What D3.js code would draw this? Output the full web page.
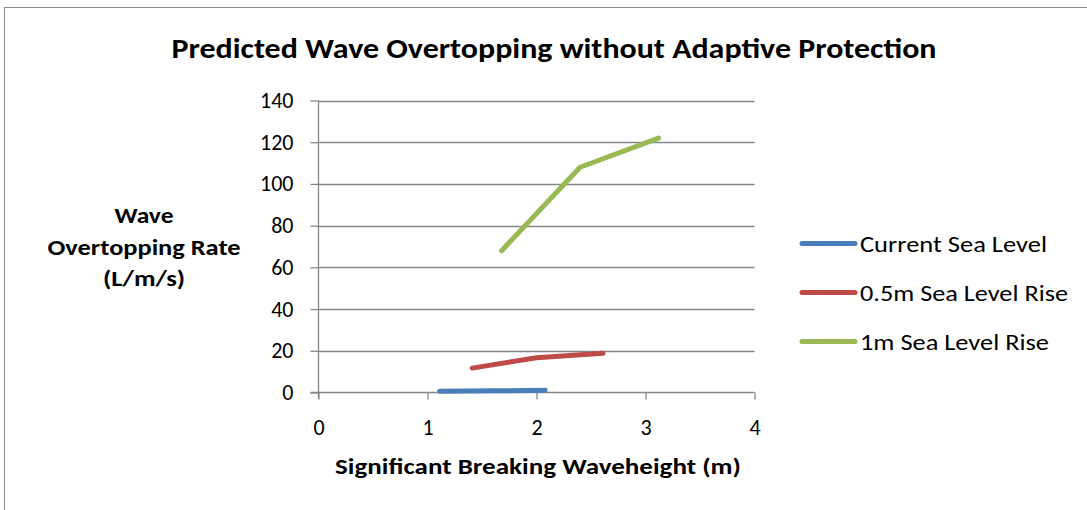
<!DOCTYPE html>
<html>
<head>
<meta charset="utf-8">
<script src="https://cdn.jsdelivr.net/npm/d3@7"></script>
<style>
  html, body { margin: 0; padding: 0; background: #fff; }
  svg { display: block; }
  text { font-family: Carlito, Calibri, Lato, "Open Sans", sans-serif; fill: #000; }
</style>
</head>
<body>
<svg id="chart" width="1087" height="510"></svg>
<script>
// Series: significant breaking waveheight (m) vs. overtopping rate (L/m/s)
const seriesNames = ["Current Sea Level", "0.5m Sea Level Rise", "1m Sea Level Rise"];
const seriesColors = ["#4a7ebb", "#be4b48", "#98b954"];
const currentX = [1.11, 1.6, 2.08];
const currentY = [0.6, 0.8, 1.1];
const halfMetreX = [1.41, 2.0, 2.61];
const halfMetreY = [11.7, 16.7, 18.8];
const oneMetreX = [1.68, 2.4, 3.12];
const oneMetreY = [68, 108, 122];
const xTicks = [0, 1, 2, 3, 4];
const yTicks = [0, 20, 40, 60, 80, 100, 120, 140];

const series = [
  { name: seriesNames[0], color: seriesColors[0], width: 187, pts: currentX.map((x, i) => [x, currentY[i]]) },
  { name: seriesNames[1], color: seriesColors[1], width: 208, pts: halfMetreX.map((x, i) => [x, halfMetreY[i]]) },
  { name: seriesNames[2], color: seriesColors[2], width: 189, pts: oneMetreX.map((x, i) => [x, oneMetreY[i]]) }
];

const svg = d3.select("#chart");

// Chart frame
svg.append("rect")
  .attr("x", 4.5).attr("y", 7.5)
  .attr("width", 1100).attr("height", 520)
  .attr("fill", "#fff").attr("stroke", "#8c8c8c").attr("stroke-width", 1);

const x = d3.scaleLinear().domain([0, 4]).range([318.5, 754.5]);
const y = d3.scaleLinear().domain([0, 140]).range([392.5, 100.5]);

const gridColor = "#878787";
const tickFont = "22px";

// Horizontal gridlines
svg.append("g")
  .selectAll("line")
  .data(yTicks.filter(d => d > 0))
  .join("line")
  .attr("x1", x(0)).attr("x2", x(4))
  .attr("y1", d => Math.round(y(d)) + 0.5).attr("y2", d => Math.round(y(d)) + 0.5)
  .attr("stroke", gridColor).attr("stroke-width", 1.3);

// Y axis
const yAxis = svg.append("g")
  .attr("transform", `translate(${x(0)},0)`)
  .call(d3.axisLeft(y).tickValues(yTicks).tickSize(8).tickPadding(17).tickFormat(d3.format("d")));
yAxis.select(".domain").attr("stroke", gridColor).attr("stroke-width", 1.3).attr("d", `M0,${y(140)}V${y(0) + 6}`);
yAxis.selectAll(".tick line").attr("stroke", gridColor).attr("stroke-width", 1.3);
yAxis.selectAll(".tick text").style("font-size", tickFont).attr("fill", "#000");

// X axis
const xAxis = svg.append("g")
  .attr("transform", `translate(0,${y(0)})`)
  .call(d3.axisBottom(x).tickValues(xTicks).tickSize(7).tickPadding(20).tickFormat(d3.format("d")));
xAxis.select(".domain").attr("stroke", gridColor).attr("stroke-width", 1.3).attr("d", `M${x(0) - 8},0H${x(4)}`);
xAxis.selectAll(".tick line").attr("stroke", gridColor).attr("stroke-width", 1.3);
xAxis.selectAll(".tick text").style("font-size", tickFont).attr("fill", "#000");

// Series lines
const line = d3.line().x(d => x(d[0])).y(d => y(d[1]));
svg.append("g")
  .selectAll("path")
  .data(series)
  .join("path")
  .attr("d", d => line(d.pts))
  .attr("fill", "none")
  .attr("stroke", d => d.color)
  .attr("stroke-width", 5)
  .attr("stroke-linecap", "round")
  .attr("stroke-linejoin", "round");

// Title
svg.append("text")
  .attr("x", 554).attr("y", 58)
  .attr("text-anchor", "middle")
  .attr("textLength", 765).attr("lengthAdjust", "spacingAndGlyphs")
  .style("font-size", "29px").style("font-weight", "bold")
  .text("Predicted Wave Overtopping without Adaptive Protection");

// Y axis title, three centred lines
const yTitleLines = [
  { t: "Wave", y: 223, w: 59 },
  { t: "Overtopping Rate", y: 255, w: 193 },
  { t: "(L/m/s)", y: 286, w: 82 }
];
svg.append("g")
  .selectAll("text")
  .data(yTitleLines)
  .join("text")
  .attr("x", 144).attr("y", d => d.y)
  .attr("text-anchor", "middle")
  .attr("textLength", d => d.w).attr("lengthAdjust", "spacingAndGlyphs")
  .style("font-size", "23px").style("font-weight", "bold")
  .text(d => d.t);

// X axis title
svg.append("text")
  .attr("x", 538).attr("y", 474)
  .attr("text-anchor", "middle")
  .attr("textLength", 406).attr("lengthAdjust", "spacingAndGlyphs")
  .style("font-size", "23px").style("font-weight", "bold")
  .text("Significant Breaking Waveheight (m)");

// Legend
const legend = svg.append("g")
  .selectAll("g")
  .data(series)
  .join("g")
  .attr("transform", (d, i) => `translate(0,${243.5 + i * 49})`);
legend.append("line")
  .attr("x1", 802).attr("x2", 855)
  .attr("stroke", d => d.color).attr("stroke-width", 5).attr("stroke-linecap", "round");
legend.append("text")
  .attr("x", 860).attr("y", 8)
  .attr("textLength", d => d.width).attr("lengthAdjust", "spacingAndGlyphs")
  .style("font-size", "23px")
  .text(d => d.name);
</script>
</body>
</html>
